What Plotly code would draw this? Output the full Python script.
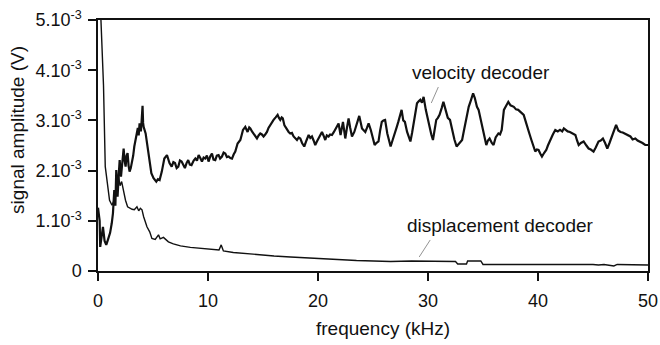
import plotly.graph_objects as go

# frequency (kHz) and amplitude (x1e-3 V)
vel_f = [0.0, 0.15, 0.2, 0.3, 0.45, 0.6, 0.75, 0.9, 1.1, 1.25, 1.36, 1.48, 1.58, 1.66, 1.78, 1.88, 1.97, 2.09, 2.2, 2.33,
         2.42, 2.51, 2.6, 2.69, 2.78, 2.87, 2.98, 3.09, 3.2, 3.3, 3.42, 3.54, 3.62, 3.7, 3.78, 3.85, 3.9, 3.97, 4.05, 4.1,
         4.15, 4.33, 4.5, 4.7, 4.85, 5.05, 5.3, 5.45, 5.6, 5.8, 6.03, 6.27, 6.5, 6.7, 6.85, 7.0, 7.15, 7.3, 7.45, 7.6,
         7.75, 7.9, 8.05, 8.2, 8.35, 8.5, 8.7, 8.85, 9.0, 9.15, 9.3, 9.45, 9.6, 9.75, 9.9, 10.05, 10.2, 10.36, 10.5, 10.66,
         10.8, 10.96, 11.1, 11.27, 11.42, 11.57, 11.72, 11.87, 12.03, 12.18, 12.33, 12.48, 12.69, 12.94, 13.05, 13.18, 13.39, 13.5, 13.6, 13.75,
         13.85, 14.0, 14.15, 14.3, 14.45, 14.6, 14.75, 14.9, 15.05, 15.2, 15.36, 15.5, 15.66, 15.8, 15.96, 16.15, 16.33, 16.45, 16.57, 16.7,
         16.8, 16.95, 17.03, 17.18, 17.33, 17.48, 17.63, 17.78, 17.93, 18.09, 18.24, 18.39, 18.55, 18.75, 18.95, 19.15, 19.3, 19.45, 19.6, 19.75,
         19.9, 20.05, 20.2, 20.36, 20.5, 20.66, 20.8, 20.96, 21.1, 21.27, 21.42, 21.57, 21.72, 21.87, 22.05, 22.27, 22.48, 22.63, 22.78, 22.93,
         23.09, 23.3, 23.5, 23.75, 24.0, 24.15, 24.3, 24.45, 24.6, 24.8, 24.95, 25.15, 25.3, 25.5, 25.65, 25.8, 25.95, 26.1, 26.3, 26.45,
         26.6, 26.8, 27.0, 27.15, 27.3, 27.45, 27.6, 27.75, 27.9, 28.1, 28.25, 28.4, 28.55, 28.7, 28.85, 29.0, 29.15, 29.3, 29.45, 29.6,
         29.8, 30.0, 30.15, 30.3, 30.45, 30.6, 30.75, 30.9, 31.05, 31.25, 31.4, 31.6, 31.8, 32.0, 32.2, 32.4, 32.6, 32.85, 33.1, 33.25,
         33.4, 33.55, 33.7, 33.9, 34.1, 34.25, 34.45, 34.6, 34.75, 34.9, 35.1, 35.3, 35.45, 35.6, 35.8, 35.96, 36.15, 36.4, 36.55, 36.7,
         36.9, 37.1, 37.3, 37.5, 37.65, 37.8, 38.0, 38.2, 38.45, 38.7, 38.85, 39.0, 39.2, 39.4, 39.6, 39.75, 39.9, 40.05, 40.2, 40.36,
         40.55, 40.75, 40.9, 41.1, 41.35, 41.57, 41.8, 42.0, 42.2, 42.35, 42.5, 42.7, 42.9, 43.15, 43.4, 43.55, 43.7, 43.9, 44.15, 44.4,
         44.6, 44.8, 45.05, 45.25, 45.5, 45.7, 45.9, 46.1, 46.3, 46.5, 46.7, 46.9, 47.1, 47.3, 47.5, 47.7, 47.9, 48.15, 48.4, 48.6,
         48.85, 49.05, 49.3, 49.5, 49.75, 50.0]
vel_a = [1.26, 1.0, 0.48, 0.7, 0.88, 0.6, 0.52, 0.62, 0.76, 0.95, 1.15, 1.61, 1.3, 2.01, 1.48, 1.9, 2.21, 1.88, 2.1, 2.44,
         2.2, 2.08, 2.3, 2.35, 2.1, 1.98, 2.05, 2.15, 2.3, 2.48, 2.6, 2.74, 2.85, 2.7, 2.94, 2.85, 2.78, 3.0, 3.29, 2.95,
         2.87, 2.74, 2.48, 2.15, 1.95, 1.85, 1.78, 1.83, 1.81, 1.98, 2.24, 2.31, 2.15, 2.08, 2.17, 2.15, 2.05, 2.08, 2.2, 2.18,
         2.1, 2.05, 2.15, 2.21, 2.12, 2.11, 2.2, 2.24, 2.2, 2.31, 2.25, 2.18, 2.26, 2.24, 2.3, 2.18, 2.28, 2.34, 2.22, 2.21,
         2.3, 2.31, 2.24, 2.28, 2.36, 2.34, 2.27, 2.28, 2.25, 2.24, 2.32, 2.38, 2.54, 2.61, 2.7, 2.81, 2.87, 2.8, 2.77, 2.86,
         2.84, 2.78, 2.74, 2.7, 2.64, 2.7, 2.74, 2.72, 2.68, 2.72, 2.77, 2.85, 2.91, 2.97, 3.01, 3.06, 3.11, 3.05, 3.01, 3.06,
         3.04, 2.9, 2.87, 2.81, 2.77, 2.74, 2.75, 2.68, 2.65, 2.61, 2.66, 2.64, 2.55, 2.48, 2.6, 2.71, 2.65, 2.68, 2.6, 2.51,
         2.58, 2.64, 2.72, 2.77, 2.7, 2.61, 2.7, 2.68, 2.72, 2.71, 2.76, 2.81, 2.88, 2.94, 2.71, 2.97, 2.64, 2.85, 3.04, 2.85,
         2.68, 2.77, 2.9, 3.09, 2.84, 2.8, 2.77, 2.85, 2.94, 2.81, 2.65, 2.51, 2.55, 2.58, 2.8, 2.97, 3.0, 3.01, 2.74, 2.6,
         2.48, 2.62, 2.74, 2.86, 2.97, 3.1, 3.21, 3.0, 2.97, 2.77, 2.65, 2.58, 2.75, 2.94, 3.15, 3.34, 3.38, 3.41, 3.35, 3.47,
         3.21, 3.0, 2.87, 2.72, 2.61, 2.8, 3.01, 3.05, 3.11, 3.25, 3.37, 3.21, 3.05, 3.01, 2.81, 2.62, 2.48, 2.55, 2.61, 2.78,
         2.94, 3.1, 3.27, 3.4, 3.54, 3.45, 3.27, 3.21, 3.07, 2.91, 2.7, 2.51, 2.6, 2.64, 2.55, 2.51, 2.66, 2.74, 2.72, 2.81,
         3.21, 3.3, 3.37, 3.3, 3.28, 3.27, 3.22, 3.21, 3.16, 3.11, 3.0, 2.87, 2.75, 2.61, 2.48, 2.38, 2.42, 2.41, 2.34, 2.28,
         2.35, 2.41, 2.5, 2.61, 2.72, 2.81, 2.78, 2.81, 2.78, 2.84, 2.81, 2.78, 2.77, 2.74, 2.71, 2.6, 2.51, 2.55, 2.58, 2.5,
         2.44, 2.42, 2.38, 2.46, 2.58, 2.6, 2.64, 2.55, 2.44, 2.55, 2.68, 2.8, 2.91, 2.8, 2.77, 2.76, 2.74, 2.7, 2.68, 2.62,
         2.64, 2.6, 2.58, 2.55, 2.51, 2.51]

disp_f = [0.0, 0.27, 0.5, 0.66, 0.87, 1.05, 1.27, 1.45, 1.6, 1.72, 1.87, 2.0, 2.15, 2.33, 2.5, 2.69, 2.87, 3.1, 3.3, 3.54,
          3.7, 3.85, 4.0, 4.15, 4.45, 4.7, 4.9, 5.2, 5.5, 5.65, 5.95, 6.4, 6.85, 7.5, 8.4, 9.3, 10.2, 11.0, 11.2, 11.4,
          12.3, 13.2, 14.45, 16.0, 17.5, 20.5, 23.5, 26.6, 28.5, 32.5, 32.7, 33.5, 33.6, 34.8, 35.0, 45.0, 45.5, 46.0, 46.9, 47.2,
          48.5, 50.0]
disp_a = [6.5, 5.0, 3.7, 2.08, 1.68, 1.41, 1.31, 1.4, 1.6, 1.82, 1.88, 1.7, 1.78, 1.55, 1.41, 1.28, 1.25, 1.23, 1.22, 1.28,
          1.2, 1.25, 1.22, 1.08, 0.88, 0.78, 0.65, 0.63, 0.72, 0.64, 0.67, 0.58, 0.54, 0.50, 0.47, 0.45, 0.43, 0.42, 0.52, 0.40,
          0.37, 0.35, 0.32, 0.30, 0.28, 0.24, 0.21, 0.19, 0.20, 0.19, 0.14, 0.14, 0.20, 0.20, 0.13, 0.13, 0.12, 0.13, 0.10, 0.13,
          0.12, 0.12]

x_ticks = [0, 10, 20, 30, 40, 50]
y_ticks = [0, 1, 2, 3, 4, 5]
y_ticktext = ["0", "1.10<sup>-3</sup>", "2.10<sup>-3</sup>", "3.10<sup>-3</sup>", "4.10<sup>-3</sup>", "5.10<sup>-3</sup>"]

FONT = "Liberation Sans, Arial, sans-serif"
INK = "#111111"

fig = go.Figure()
fig.add_trace(go.Scatter(x=disp_f, y=[v * 1e-3 for v in disp_a], mode="lines",
                         line=dict(color=INK, width=1.4), showlegend=False))
fig.add_trace(go.Scatter(x=vel_f, y=[v * 1e-3 for v in vel_a], mode="lines",
                         line=dict(color=INK, width=2.2), showlegend=False))

fig.update_layout(
    width=660, height=345,
    margin=dict(l=98, r=12, t=20, b=74),
    paper_bgcolor="white", plot_bgcolor="white",
    font=dict(family=FONT, size=18, color=INK),
    xaxis=dict(range=[0, 50], tickvals=x_ticks, ticks="outside", ticklen=8, tickwidth=1.5,
               tickcolor=INK, showline=True, linecolor=INK, linewidth=1.5, mirror=True,
               showgrid=False, zeroline=False, ticklabelstandoff=5, automargin=False),
    yaxis=dict(range=[0, 5e-3], tickvals=[v * 1e-3 for v in y_ticks], ticktext=y_ticktext,
               ticks="outside", ticklen=8, tickwidth=1.5, tickcolor=INK, showline=True,
               linecolor=INK, linewidth=1.5, mirror=True, showgrid=False, zeroline=False,
               ticklabelstandoff=3, automargin=False),
    shapes=[
        dict(type="line", xref="x", yref="y", x0=30.3, y0=3.347e-3, x1=30.94, y1=3.665e-3,
             line=dict(color="#777777", width=0.8)),
        dict(type="line", xref="x", yref="y", x0=29.2, y0=0.279e-3, x1=30.2, y1=0.618e-3,
             line=dict(color="#777777", width=0.8)),
    ],
    annotations=[
        dict(text="frequency (kHz)", xref="paper", yref="paper", x=0.518, y=-0.231,
             showarrow=False, font=dict(size=19), xanchor="center", yanchor="middle"),
        dict(text="signal amplitude (V)", xref="paper", yref="paper", x=-0.1455, y=0.562,
             showarrow=False, textangle=-90, font=dict(size=19), xanchor="center", yanchor="middle"),
        dict(text="velocity decoder", x=34.85, y=3.96e-3, showarrow=False, font=dict(size=19),
             xanchor="center", yanchor="middle"),
        dict(text="displacement decoder", x=36.6, y=0.916e-3, showarrow=False, font=dict(size=19),
             xanchor="center", yanchor="middle"),
    ],
)

fig.write_html("out.html")
